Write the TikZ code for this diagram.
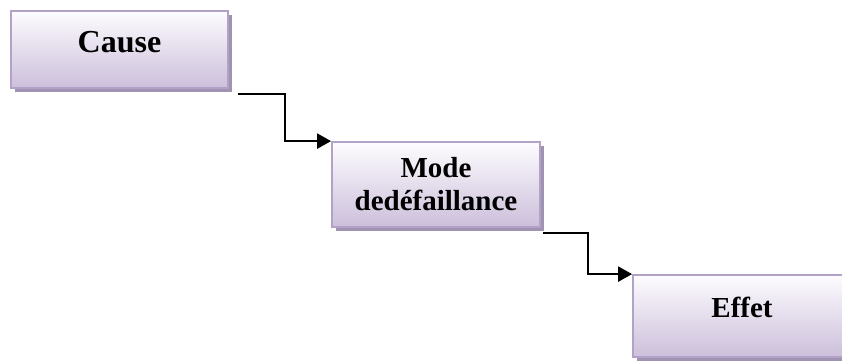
\documentclass[tikz,border=0pt]{standalone}
\usepackage{fontspec}
\setmainfont{Liberation Serif}
\usetikzlibrary{arrows.meta,shadows}
\definecolor{boxborder}{RGB}{178,162,199}
\definecolor{boxtop}{RGB}{253,252,254}
\definecolor{boxbottom}{RGB}{204,191,219}
\definecolor{boxshadow}{RGB}{160,147,178}
\tikzset{
  box/.style={draw=boxborder, line width=1.8pt, top color=boxtop, bottom color=boxbottom,
    drop shadow={shadow xshift=4pt, shadow yshift=-4pt, fill=boxshadow, opacity=1},
    font=\fontsize{29}{33}\selectfont\bfseries, align=center, inner sep=0pt},
  conn/.style={line width=2.3pt, -{Triangle[length=14pt,width=15pt]}}
}
\begin{document}
\begin{tikzpicture}[x=1pt,y=-1pt]
\useasboundingbox (0,0) rectangle (842,363);
\node[box, minimum width=217pt, minimum height=77pt, font=\fontsize{32}{36}\selectfont\bfseries, text height=22pt, text depth=15pt] (cause) at (119.5,49.5) {Cause};
\node[box, minimum width=208pt, minimum height=85pt] (mode) at (436,184.5) {Mode\\dedéfaillance};
\node[box, minimum width=218pt, minimum height=82pt, text height=20pt, text depth=18pt] (effet) at (742,316) {Effet};
\coordinate (c1) at ([xshift=9pt,yshift=-5pt]cause.south east);
\coordinate (c2) at ([xshift=2pt,yshift=-5pt]mode.south east);
\draw[conn] (c1) -- ++(47,0) |- (mode.north west);
\draw[conn] (c2) -- ++(45,0) |- (effet.north west);
\end{tikzpicture}
\end{document}
